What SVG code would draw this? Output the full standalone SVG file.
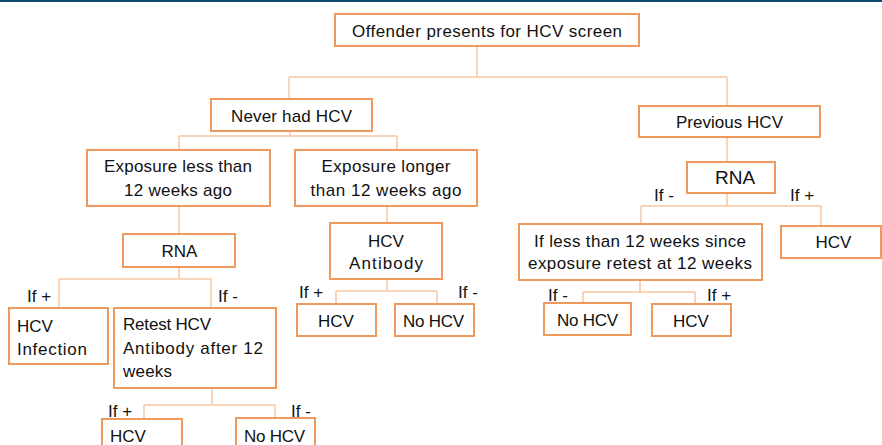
<svg xmlns="http://www.w3.org/2000/svg" width="882" height="445" viewBox="0 0 882 445">
<style>
.box{fill:#fff;stroke:#EF9A5C;stroke-width:2}
.con{fill:none;stroke:#F7C6A2;stroke-width:1.5}
text{font-family:"Liberation Sans",Arial,sans-serif;font-size:17px;fill:#111}
.m{text-anchor:middle}
</style>
<rect x="0" y="0" width="882" height="445" fill="#fff"/>
<rect x="0" y="0" width="882" height="2" fill="#0c4a6e"/>
<g id="connectors">
<path class="con" d="M477,46V77M289,77H727M289,77V99M727,77V106"/>
<path class="con" d="M290,131V136M179,136H397M179,136V150M397,136V150"/>
<path class="con" d="M179,206V234"/>
<path class="con" d="M179,267V279M59,279H211M59,279V308M211,279V308"/>
<path class="con" d="M212,388V405M144,405H275M144,405V419M275,405V418"/>
<path class="con" d="M387,206V223"/>
<path class="con" d="M387,279V291M336,291H437M336,291V304M437,291V304"/>
<path class="con" d="M727,137V162"/>
<path class="con" d="M727,193V206M641,206H821M641,206V224M821,206V226"/>
<path class="con" d="M640,280V292M583,292H695M583,292V303M695,292V304"/>
</g>
<g id="n-top"><rect class="box" x="335" y="14" width="304" height="32"/><text class="m" x="487" y="37" textLength="270">Offender presents for HCV screen</text></g>
<g id="n-never"><rect class="box" x="211" y="99" width="161" height="32"/><text class="m" x="291.5" y="122" textLength="121">Never had HCV</text></g>
<g id="n-previous"><rect class="box" x="639" y="106" width="181" height="31"/><text class="m" x="729.5" y="128" textLength="107">Previous HCV</text></g>
<g id="n-exp-less"><rect class="box" x="87" y="150" width="183" height="56"/><text class="m" x="178" y="172" textLength="148">Exposure less than</text><text class="m" x="178" y="196" textLength="108">12 weeks ago</text></g>
<g id="n-exp-longer"><rect class="box" x="295" y="150" width="182" height="56"/><text class="m" x="386" y="172" textLength="129">Exposure longer</text><text class="m" x="386" y="196" textLength="151">than 12 weeks ago</text></g>
<g id="n-rna-left"><rect class="box" x="123" y="234" width="112" height="33"/><text class="m" x="179.5" y="257">RNA</text></g>
<text x="27" y="302">If +</text>
<text x="218" y="302">If -</text>
<g id="n-hcv-infection"><rect class="box" x="9" y="308" width="99" height="56"/><text x="17" y="332">HCV</text><text x="17" y="355" textLength="70">Infection</text></g>
<g id="n-retest"><rect class="box" x="114" y="308" width="162" height="80"/><text x="123" y="330" textLength="88">Retest HCV</text><text x="123" y="354" textLength="140">Antibody after 12</text><text x="123" y="377" textLength="49">weeks</text></g>
<text x="108" y="417">If +</text>
<text x="291" y="417">If -</text>
<g id="n-hcv-bottom"><rect class="box" x="102" y="419" width="80" height="40"/><text x="110" y="442">HCV</text></g>
<g id="n-nohcv-bottom"><rect class="box" x="236" y="418" width="79" height="40"/><text class="m" x="274.5" y="442" textLength="61">No HCV</text></g>
<g id="n-hcv-antibody"><rect class="box" x="330" y="223" width="112" height="56"/><text class="m" x="386" y="247">HCV</text><text class="m" x="386" y="269" textLength="74">Antibody</text></g>
<text x="299" y="298">If +</text>
<text x="458" y="298">If -</text>
<g id="n-hcv-mid"><rect class="box" x="297" y="304" width="79" height="32"/><text class="m" x="336" y="327">HCV</text></g>
<g id="n-nohcv-mid"><rect class="box" x="395" y="304" width="79" height="32"/><text class="m" x="433.5" y="327" textLength="61">No HCV</text></g>
<g id="n-rna-right"><rect class="box" x="687" y="162" width="88" height="31"/><text class="m" x="735" y="184" style="font-size:19px">RNA</text></g>
<text x="654" y="201">If -</text>
<text x="790" y="201">If +</text>
<g id="n-if-less"><rect class="box" x="519" y="224" width="243" height="56"/><text class="m" x="640" y="247" textLength="212">If less than 12 weeks since</text><text class="m" x="640" y="269" textLength="224">exposure retest at 12 weeks</text></g>
<g id="n-hcv-right"><rect class="box" x="781" y="226" width="100" height="32"/><text class="m" x="833.5" y="248">HCV</text></g>
<text x="548" y="301">If -</text>
<text x="707" y="301">If +</text>
<g id="n-nohcv-right"><rect class="box" x="544" y="303" width="87" height="32"/><text class="m" x="587.5" y="326" textLength="61">No HCV</text></g>
<g id="n-hcv-right2"><rect class="box" x="652" y="304" width="79" height="32"/><text class="m" x="691" y="327">HCV</text></g>
</svg>
